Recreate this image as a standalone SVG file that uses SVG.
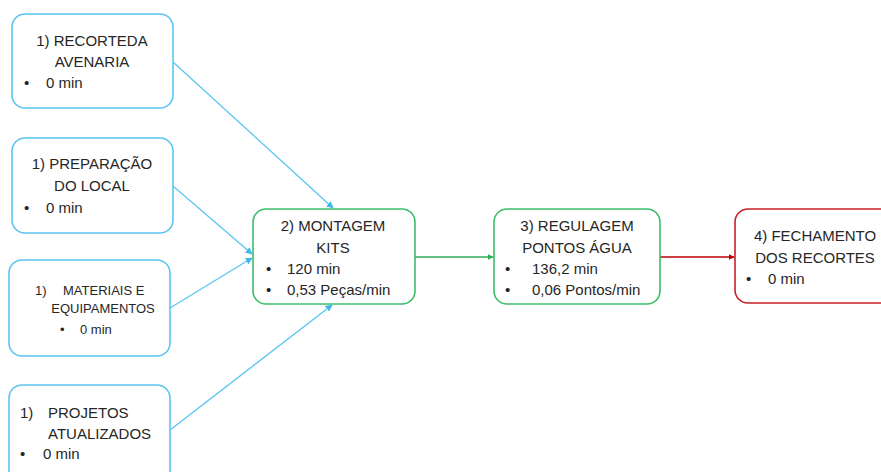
<svg xmlns="http://www.w3.org/2000/svg" width="881" height="472" viewBox="0 0 881 472">
<defs>
<style>
.bx{fill:#fff;stroke-width:1.6}
.b{stroke:#5BC5F2}
.g{stroke:#3DBE6A}
.r{stroke:#C8202A}
text{font-family:"Liberation Sans",Arial,sans-serif;font-size:15px;fill:#262626}
.s{font-size:13px}
.m{text-anchor:middle}
.ln{fill:none;stroke-width:1.3}
</style>
<marker id="ab" viewBox="0 0 10 10" refX="9" refY="5" markerWidth="7" markerHeight="7" markerUnits="userSpaceOnUse" orient="auto"><path d="M0,0L10,5L0,10z" fill="#3FB6EE"/></marker>
<marker id="ag" viewBox="0 0 10 10" refX="9" refY="5" markerWidth="6" markerHeight="6" markerUnits="userSpaceOnUse" orient="auto"><path d="M0,0L10,5L0,10z" fill="#2EAF58"/></marker>
<marker id="ar" viewBox="0 0 10 10" refX="9" refY="5" markerWidth="6" markerHeight="6" markerUnits="userSpaceOnUse" orient="auto"><path d="M0,0L10,5L0,10z" fill="#C00000"/></marker>
</defs>
<rect width="881" height="472" fill="#fff"/>
<g id="connectors">
<line class="ln b" x1="173" y1="62" x2="333" y2="208" marker-end="url(#ab)"/>
<line class="ln b" x1="173" y1="186" x2="252" y2="254" marker-end="url(#ab)"/>
<line class="ln b" x1="170" y1="308" x2="252" y2="258" marker-end="url(#ab)"/>
<line class="ln b" x1="170" y1="430" x2="332" y2="305" marker-end="url(#ab)"/>
<line class="ln" stroke="#2EAF58" x1="415" y1="257" x2="493" y2="257" marker-end="url(#ag)"/>
<line class="ln" stroke="#C00000" x1="660" y1="257" x2="734" y2="257" marker-end="url(#ar)"/>
</g>
<g id="n1a">
<rect class="bx b" x="12" y="14" width="161" height="94" rx="13"/>
<text class="m" x="92" y="46">1)  RECORTEDA</text>
<text class="m" x="92" y="67">AVENARIA</text>
<text x="24" y="88">•</text><text x="46" y="88">0 min</text>
</g>
<g id="n1b">
<rect class="bx b" x="12" y="138" width="161" height="95" rx="13"/>
<text class="m" x="92" y="169">1) PREPARAÇÃO</text>
<text class="m" x="92" y="191">DO LOCAL</text>
<text x="24" y="213">•</text><text x="46" y="213">0 min</text>
</g>
<g id="n1c">
<rect class="bx b" x="9" y="260" width="161" height="96" rx="13"/>
<text class="s" x="35" y="295">1)</text><text class="s" x="63" y="295">MATERIAIS E</text>
<text class="s m" x="103" y="313">EQUIPAMENTOS</text>
<text class="s" x="60" y="334">•</text><text class="s" x="80" y="334">0 min</text>
</g>
<g id="n1d">
<rect class="bx b" x="9" y="385" width="161" height="100" rx="13"/>
<text x="20" y="418">1)</text><text x="48" y="418">PROJETOS</text>
<text x="48" y="439">ATUALIZADOS</text>
<text x="20" y="459">•</text><text x="43" y="459">0 min</text>
</g>
<g id="n2">
<rect class="bx g" x="253" y="209" width="162" height="95" rx="13"/>
<text class="m" x="333" y="231">2)  MONTAGEM</text>
<text class="m" x="333" y="253">KITS</text>
<text x="266" y="274">•</text><text x="287" y="274">120 min</text>
<text x="266" y="295">•</text><text x="287" y="295">0,53 Peças/min</text>
</g>
<g id="n3">
<rect class="bx g" x="494" y="209" width="166" height="95" rx="13"/>
<text class="m" x="577" y="231">3) REGULAGEM</text>
<text class="m" x="577" y="253">PONTOS ÁGUA</text>
<text x="505" y="274">•</text><text x="532" y="274">136,2 min</text>
<text x="505" y="295">•</text><text x="532" y="295">0,06 Pontos/min</text>
</g>
<g id="n4">
<rect class="bx r" x="735" y="209" width="170" height="94" rx="13"/>
<text class="m" x="815" y="241">4) FECHAMENTO</text>
<text class="m" x="815" y="263">DOS RECORTES</text>
<text x="746" y="284">•</text><text x="768" y="284">0 min</text>
</g>
</svg>
